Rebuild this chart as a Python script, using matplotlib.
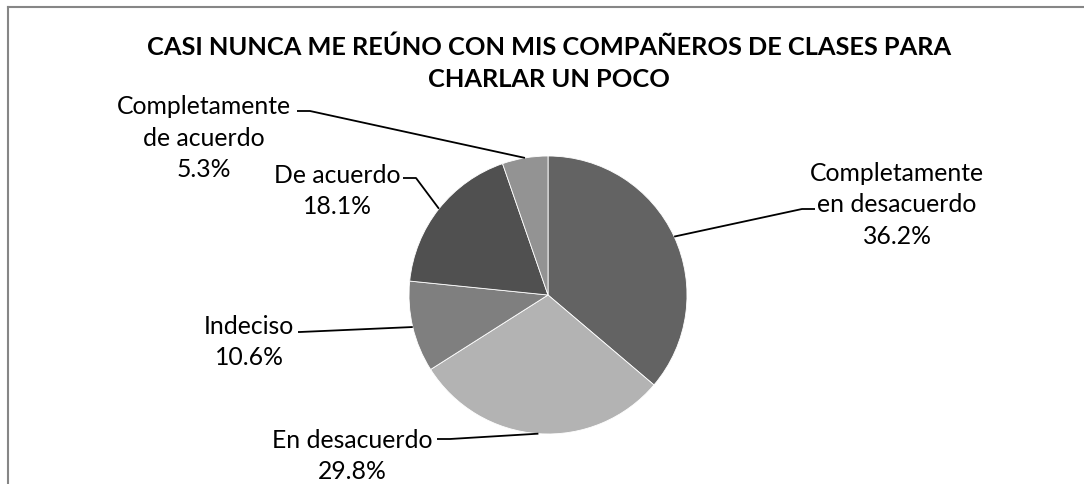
import numpy as np
import matplotlib.pyplot as plt
from matplotlib.lines import Line2D

# datos del gráfico
categorias = ["Completamente\nen desacuerdo", "En desacuerdo", "Indeciso",
              "De acuerdo", "Completamente\nde acuerdo"]
porcentajes = [36.2, 29.8, 10.6, 18.1, 5.3]
colores = ["#636363", "#b3b3b3", "#7f7f7f", "#505050", "#939393"]
titulo = "CASI NUNCA ME REÚNO CON MIS COMPAÑEROS DE CLASES PARA\nCHARLAR UN POCO"

W, H = 1084, 485
plt.rcParams['font.family'] = ['Lato', 'DejaVu Sans']

fig = plt.figure(figsize=(W / 100, H / 100), dpi=100)
ax = fig.add_axes([0, 0, 1, 1])

cx, cy, r = 548, H - 296, 139
wedges, _ = ax.pie(porcentajes, colors=colores, startangle=90, counterclock=False,
                   center=(cx, cy), radius=r, frame=True,
                   wedgeprops=dict(edgecolor='white', linewidth=0.6))
ax.set_xlim(0, W)
ax.set_ylim(0, H)
ax.axis('off')

# posición de cada etiqueta (centro del bloque) y del inicio de la línea guía
etiquetas_pos = [(897, 205), (352, 456), (249, 342), (337, 191), (204, 138)]
guia_inicio = [[(815, 210), (802, 210)],
               [(437, 440), (450, 440)],
               [(298, 333), (300, 333)],
               [(403, 179), (416, 179)],
               [(297, 112), (310, 112)]]

for w, cat, pct, (tx, ty), guia in zip(wedges, categorias, porcentajes,
                                       etiquetas_pos, guia_inicio):
    ang = np.deg2rad((w.theta1 + w.theta2) / 2)
    px = cx + r * np.cos(ang)
    py = cy + r * np.sin(ang)
    ax.text(tx, H - ty, f"{cat}\n{pct:.1f}%", ha='center', va='center',
            fontsize=17.8, linespacing=1.47, color='black')
    xs = [p[0] for p in guia] + [px]
    ys = [H - p[1] for p in guia] + [py]
    ax.plot(xs, ys, color='black', lw=1.3, solid_capstyle='butt')

ax.text(549, H - 63, titulo, ha='center', va='center', fontsize=18.3,
        fontweight='bold', linespacing=1.45)

# marco del área del gráfico
fig.add_artist(Line2D([7.5 / W, 1], [1 - 7.5 / H, 1 - 7.5 / H],
                      transform=fig.transFigure, color='#868686', lw=1.5))
fig.add_artist(Line2D([7.5 / W, 7.5 / W], [0, 1 - 7.5 / H],
                      transform=fig.transFigure, color='#868686', lw=1.5))

fig.savefig("out.png", dpi=100, facecolor='white')
